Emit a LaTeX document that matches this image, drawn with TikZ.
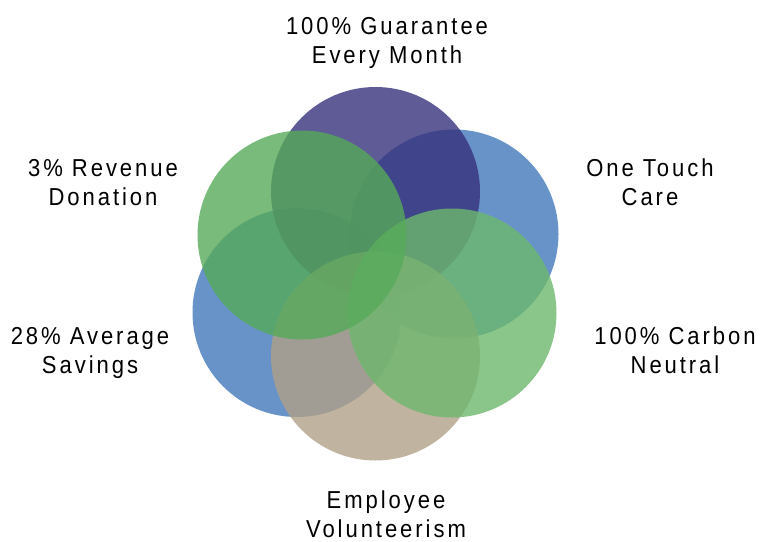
\documentclass[tikz,border=0pt]{standalone}
\usepackage{fontspec}
\setmainfont{Liberation Sans}[FakeStretch=0.9,LetterSpace=12]
\definecolor{guaranteefill}{HTML}{36327C}
\definecolor{bluefill}{HTML}{4278BB}
\definecolor{carbonfill}{HTML}{6DB86D}
\definecolor{beigefill}{HTML}{B0A088}
\definecolor{donationfill}{HTML}{56AA59}
\begin{document}
\begin{tikzpicture}[x=1pt,y=-1pt,
  petal/.style={circle,minimum size=209pt,inner sep=0pt,fill opacity=0.8},
  lbl/.style={align=center,anchor=base,font=\fontsize{24.5}{28.5}\selectfont}]
  \useasboundingbox (0,0) rectangle (760,541);
  \node[petal,fill=bluefill] (care) at (454,234) {};
  \node[petal,fill=bluefill] (savings) at (297,312.5) {};
  \node[petal,fill=guaranteefill] (guarantee) at (375.5,191.5) {};
  \node[petal,fill=beigefill] (volunteer) at (375.5,356) {};
  \node[petal,fill=carbonfill] (carbon) at (452,313) {};
  \node[petal,fill=donationfill] (donation) at (302,235) {};
  \node[lbl] (guaranteetext) at (387,63) {100\% Guarantee\\Every Month};
  \node[lbl] (caretext) at (650,205) {One Touch\\Care};
  \node[lbl] (carbontext) at (675,373) {100\% Carbon\\Neutral};
  \node[lbl] (volunteertext) at (386,537) {Employee\\Volunteerism};
  \node[lbl] (savingstext) at (90,373) {28\% Average\\Savings};
  \node[lbl] (donationtext) at (103,205) {3\% Revenue\\Donation};
\end{tikzpicture}
\end{document}
